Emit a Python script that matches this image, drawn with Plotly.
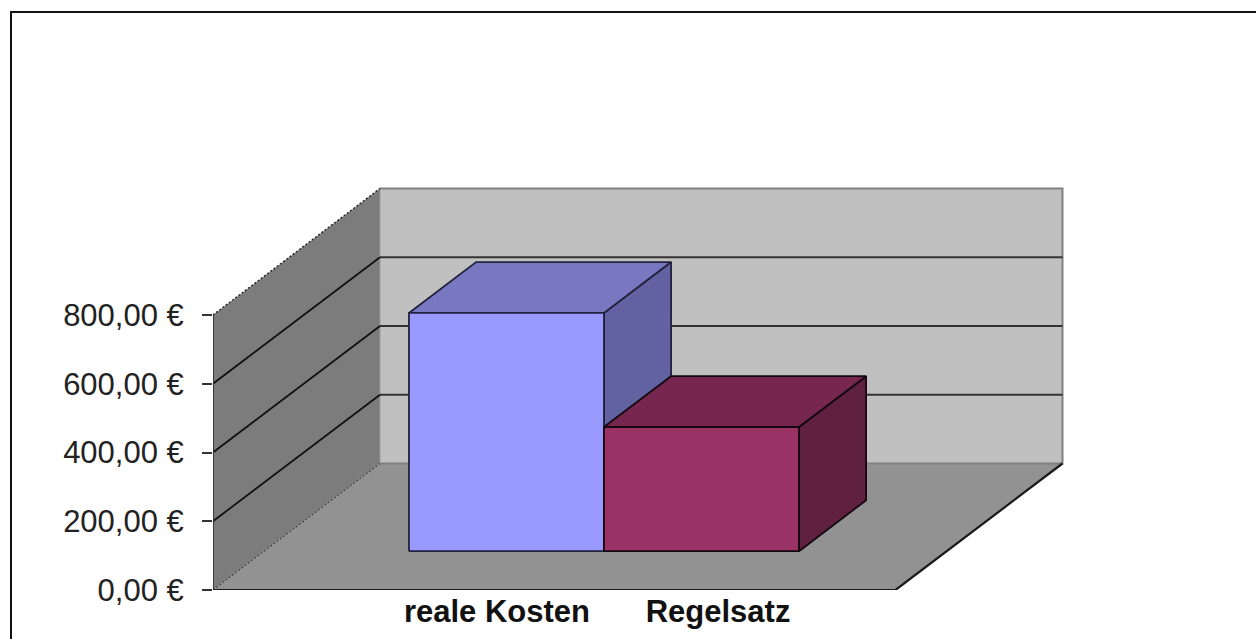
import plotly.graph_objects as go

categories = ["reale Kosten", "Regelsatz"]
values = [693, 361]
y_ticks = [0, 200, 400, 600, 800]
y_tick_labels = ["0,00 €", "200,00 €", "400,00 €", "600,00 €", "800,00 €"]
x_label_positions = [1.456, 2.59]

W, H = 1256, 639
LEFT, BOTTOM = 213, 49
PX_PER_UNIT = 195.0
PX_PER_VALUE = 275 / 800
FLOOR_W = 3.5
YMAX = y_ticks[-1]
DEPTH_X = 167 / PX_PER_UNIT
DEPTH_Y = 126.5 / PX_PER_VALUE
BAR_D0, BAR_D1 = 0.307, 0.709
GAP = 0.742


def proj(x, v, d):
    return x + d * DEPTH_X, v + d * DEPTH_Y


fig = go.Figure()


def poly(points, fill=None, line=None, width=1.5, dash="solid"):
    xs, ys = zip(*[proj(*p) for p in points])
    fig.add_trace(go.Scatter(
        x=list(xs), y=list(ys), mode="lines",
        fill="toself" if fill else "none",
        fillcolor=fill,
        line=dict(color=line or "rgba(0,0,0,0)", width=width if line else 0, dash=dash),
        hoverinfo="skip", showlegend=False))


# walls and floor
poly([(0, 0, 0), (0, 0, 1), (0, YMAX, 1), (0, YMAX, 0), (0, 0, 0)], fill="#7c7c7c")
poly([(0, 0, 1), (FLOOR_W, 0, 1), (FLOOR_W, YMAX, 1), (0, YMAX, 1), (0, 0, 1)], fill="#c0c0c0")
poly([(0, 0, 0), (FLOOR_W, 0, 0), (FLOOR_W, 0, 1), (0, 0, 1), (0, 0, 0)], fill="#929292")

# wall edges
poly([(0, YMAX, 1), (FLOOR_W, YMAX, 1), (FLOOR_W, 0, 1), (0, 0, 1)], line="#808080", width=2)
poly([(0, 0, 1), (0, YMAX, 1)], line="#9a9a9a", width=1)

# gridlines
for t in y_ticks[1:-1]:
    poly([(0, t, 0), (0, t, 1)], line="#111111", width=1.8)
    poly([(0, t, 1), (FLOOR_W, t, 1)], line="#333333", width=2.2)

poly([(0, YMAX, 0), (0, YMAX, 1)], line="#222222", width=1.4, dash="2px,2px")
poly([(0, 0, 0), (0, 0, 1)], line="#222222", width=1, dash="2px,2px")

# axis frame
poly([(0, 0, 0), (0, YMAX, 0)], line="#333333", width=1.8)
poly([(0, 0, 0), (FLOOR_W, 0, 0), (FLOOR_W, 0, 1)], line="#1a1a1a", width=2.2)

# bars
bar_styles = [
    dict(front="#9999ff", top="#7878c0", side="#6262a3", edge="#22223f"),
    dict(front="#993366", top="#77274f", side="#60203f", edge="#140810"),
]
for i, (v, st) in enumerate(zip(values, bar_styles)):
    x0, x1 = GAP + i, GAP + i + 1
    poly([(x1, 0, BAR_D0), (x1, 0, BAR_D1), (x1, v, BAR_D1), (x1, v, BAR_D0), (x1, 0, BAR_D0)],
         fill=st["side"], line=st["edge"], width=1.8)
    poly([(x0, v, BAR_D0), (x1, v, BAR_D0), (x1, v, BAR_D1), (x0, v, BAR_D1), (x0, v, BAR_D0)],
         fill=st["top"], line=st["edge"], width=1.8)
    poly([(x0, 0, BAR_D0), (x1, 0, BAR_D0), (x1, v, BAR_D0), (x0, v, BAR_D0), (x0, 0, BAR_D0)],
         fill=st["front"], line=st["edge"], width=1.8)

plot_w = W - LEFT
plot_h = H - BOTTOM
fig.update_layout(
    width=W, height=H, autosize=False,
    margin=dict(l=LEFT, r=0, t=0, b=BOTTOM, pad=0),
    paper_bgcolor="white", plot_bgcolor="white", showlegend=False,
    xaxis=dict(
        range=[0, plot_w / PX_PER_UNIT], showgrid=False, zeroline=False, showline=False,
        tickmode="array", tickvals=x_label_positions, ticktext=categories, ticks="",
        tickangle=0, tickfont=dict(family="Liberation Sans", size=31, color="#111111", weight="bold"),
        fixedrange=True),
    yaxis=dict(
        range=[0, plot_h / PX_PER_VALUE], showgrid=False, zeroline=False, showline=False,
        tickmode="array", tickvals=y_ticks, ticktext=y_tick_labels, ticks="outside",
        ticklen=10, tickwidth=1.8, tickcolor="#333333", ticklabelstandoff=12,
        tickfont=dict(family="Liberation Sans", size=31, color="#222222"),
        fixedrange=True),
    shapes=[dict(type="path", xref="paper", yref="paper",
                 path=f"M {(11 - LEFT) / plot_w} {(H - BOTTOM - H) / plot_h} "
                      f"L {(11 - LEFT) / plot_w} {(plot_h - 12) / plot_h} "
                      f"L 1 {(plot_h - 12) / plot_h}",
                 line=dict(color="#111111", width=2))],
)
fig.write_html("out.html", post_script="document.body.style.margin='0';",
               config={"displayModeBar": False})
